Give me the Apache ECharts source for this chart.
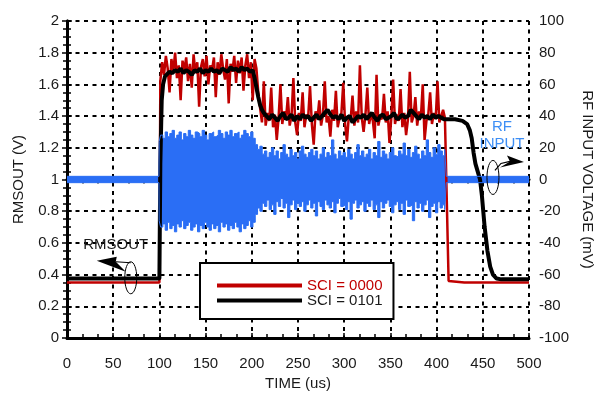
<!DOCTYPE html>
<html>
<head>
<meta charset="utf-8">
<script src="https://cdn.jsdelivr.net/npm/echarts@6/dist/echarts.min.js"></script>
<style>
  html, body { margin: 0; padding: 0; background: #fff; }
  #chart { width: 594px; height: 398px; }
</style>
</head>
<body>
<div id="chart"></div>
<script>
// time axis ticks (us)
const timeMin = 0, timeMax = 500, timeStep = 50;

// SCI = 0000 (red), RMSOUT in V
const redStart = [[0, 0.35], [100, 0.35]];
const redHigh = [ // from 101us, every 2us
  1.62, 1.74, 1.66, 1.78, 1.70, 1.55, 1.76, 1.68, 1.80, 1.64,
  1.72, 1.50, 1.75, 1.69, 1.77, 1.62, 1.73, 1.58, 1.79, 1.67,
  1.74, 1.46, 1.71, 1.76, 1.65, 1.78, 1.60, 1.72, 1.69, 1.77,
  1.52, 1.74, 1.66, 1.79, 1.70, 1.63, 1.76, 1.48, 1.73, 1.68,
  1.78, 1.61, 1.75, 1.67, 1.77, 1.56, 1.72, 1.79, 1.64, 1.74,
  1.50, 1.76, 1.70
];
const redMid = [ // from 207us, every 2us
  1.55, 1.45, 1.36, 1.62, 1.34, 1.42, 1.37, 1.58, 1.33, 1.41,
  1.25, 1.39, 1.60, 1.35, 1.43, 1.38, 1.52, 1.34, 1.40, 1.64,
  1.36, 1.28, 1.42, 1.37, 1.55, 1.33, 1.41, 1.39, 1.59, 1.35,
  1.22, 1.43, 1.38, 1.50, 1.34, 1.41, 1.62, 1.36, 1.40, 1.27,
  1.44, 1.37, 1.56, 1.33, 1.39, 1.42, 1.61, 1.35, 1.24, 1.40,
  1.38, 1.53, 1.34, 1.43, 1.36, 1.72, 1.39, 1.30, 1.41, 1.58,
  1.35, 1.42, 1.37, 1.26, 1.66, 1.34, 1.40, 1.38, 1.54, 1.36,
  1.43, 1.23, 1.39, 1.63, 1.35, 1.41, 1.37, 1.57, 1.33, 1.42,
  1.28, 1.38, 1.68, 1.36, 1.40, 1.52, 1.34, 1.43, 1.39, 1.60,
  1.25, 1.37, 1.41, 1.55, 1.35, 1.42, 1.38, 1.62, 1.36, 1.40,
  1.44, 1.39
];
const redEnd = [[411, 1.38], [413, 0.36], [430, 0.35], [500, 0.35]];

// SCI = 0101 (black), RMSOUT in V
const blackRise = [[0, 0.375], [100, 0.375], [101, 1.1], [102.5, 1.5], [104, 1.6], [106, 1.65]];
const blackHigh = [ // from 108us, every 3us
  1.66, 1.68, 1.67, 1.69, 1.68, 1.70, 1.67, 1.69, 1.68, 1.66,
  1.69, 1.68, 1.70, 1.67, 1.69, 1.68, 1.70, 1.68, 1.69, 1.67,
  1.70, 1.69, 1.68, 1.71, 1.69, 1.70, 1.68, 1.71, 1.69, 1.70,
  1.68, 1.69
];
const blackFall = [[203, 1.64], [205, 1.58], [207, 1.52], [209, 1.47], [211, 1.44], [213, 1.42]];
const blackMid = [ // from 216us, every 3us
  1.40, 1.38, 1.41, 1.39, 1.37, 1.40, 1.42, 1.38, 1.39, 1.41,
  1.37, 1.40, 1.38, 1.41, 1.39, 1.40, 1.37, 1.39, 1.41, 1.38,
  1.40, 1.42, 1.44, 1.41, 1.39, 1.40, 1.38, 1.41, 1.37, 1.39,
  1.40, 1.36, 1.38, 1.40, 1.39, 1.41, 1.38, 1.40, 1.42, 1.39,
  1.37, 1.40, 1.41, 1.38, 1.39, 1.40, 1.42, 1.38, 1.39, 1.41,
  1.39, 1.40, 1.44, 1.42, 1.40, 1.38, 1.41, 1.39, 1.40, 1.38,
  1.41, 1.39, 1.40, 1.39, 1.38
];
const blackTail = [
  [411, 1.38], [420, 1.38], [428, 1.37], [433, 1.35], [436, 1.31], [438, 1.26],
  [440, 1.17], [442, 1.10], [445, 1.04], [447, 1.00], [449, 0.90], [452, 0.70],
  [455, 0.55], [458, 0.45], [461, 0.40], [465, 0.375], [470, 0.37], [500, 0.37]
];

// RF INPUT (blue), envelope in mV, from 100us every 2.5us
const blueQuiet = 2;
const blueUpper = [
  24, 28, 26, 30, 27, 29, 31, 26, 28, 30, 25, 29, 27, 31, 28, 26, 30, 29, 27, 31,
  28, 25, 29, 30, 27, 28, 31, 29, 26, 30, 28, 31, 27, 29, 30, 26, 28, 31, 29, 27,
  30, 26, 22,
  19, 21, 16, 18, 14, 17, 20, 15, 18, 13, 17, 22, 16, 14, 19, 15, 17, 13, 18, 21,
  16, 14, 17, 19, 15, 18, 13, 16, 20, 14, 17, 15, 25, 16, 13, 18, 15, 17, 14, 19,
  16, 13, 17, 22, 15, 18, 14, 16, 19, 13, 17, 15, 24, 14, 18, 16, 13, 17, 20, 15,
  14, 18, 16, 23, 15, 19, 14, 17, 21, 16, 13, 18, 15, 25, 17, 14, 20, 16, 22, 18,
  15, 19
];
const blueLower = [
  -26, -30, -28, -32, -27, -31, -29, -33, -28, -30, -26, -31, -29, -27, -32, -30, -28, -33, -29, -31,
  -27, -30, -32, -28, -31, -29, -33, -27, -30, -28, -32, -29, -31, -27, -30, -33, -28, -31, -29, -26,
  -30, -27, -22,
  -18, -20, -15, -17, -13, -19, -16, -22, -14, -17, -12, -18, -15, -24, -16, -13, -19, -15, -17, -14,
  -20, -16, -13, -18, -15, -23, -14, -17, -19, -13, -16, -18, -14, -21, -15, -12, -17, -16, -19, -14,
  -25, -15, -13, -18, -16, -14, -20, -15, -17, -13, -19, -16, -24, -14, -18, -15, -13, -17, -21, -16,
  -14, -19, -15, -22, -13, -17, -16, -26, -14, -18, -15, -20, -16, -13, -24, -17, -15, -21, -14, -18,
  -16, -19
];

const legendNames = ['SCI = 0000', 'SCI = 0101'];

// pairs sampled values with their times
function sampled(t0, step, values) {
  return values.map((v, i) => [t0 + i * step, v]);
}

const redData = redStart.concat(sampled(101, 2, redHigh), sampled(207, 2, redMid), redEnd);
const blackData = blackRise.concat(sampled(108, 3, blackHigh), blackFall, sampled(216, 3, blackMid), blackTail);
const blueUpData = [[0, blueQuiet], [99.5, blueQuiet]].concat(sampled(100, 2.5, blueUpper), [[411, blueQuiet], [500, blueQuiet]]);
const blueLowData = [[0, -blueQuiet], [99.5, -blueQuiet]].concat(sampled(100, 2.5, blueLower), [[411, -blueQuiet], [500, -blueQuiet]]);

const font = '"Liberation Sans", Arial, Helvetica, sans-serif';
const textColor = '#1a1a1a';
const blue = '#2a6ef5';
const red = '#c00000';

const frame = { show: true, lineStyle: { color: '#000', width: 3 } };
const tick = { show: true, inside: true, length: 5, lineStyle: { color: '#000', width: 1.5 } };
const minor = (n) => ({ show: true, splitNumber: n, length: 4, lineStyle: { color: '#000', width: 1.5 } });
const grid = { show: true, lineStyle: { color: '#000', width: 2, type: [4, 4.5] } };

let myChart = echarts.init(document.getElementById('chart'));
myChart.setOption({
  animation: false,
  textStyle: { fontFamily: font },
  grid: { left: 67, right: 65, top: 21, bottom: 60, containLabel: false, outerBoundsMode: 'none' },
  legend: {
    data: [
      { name: legendNames[0], textStyle: { color: red } },
      { name: legendNames[1], textStyle: { color: textColor } }
    ],
    orient: 'vertical',
    left: 200,
    top: 263,
    padding: [15, 11, 11, 17],
    itemWidth: 85,
    itemHeight: 4,
    itemGap: 0,
    icon: 'rect',
    backgroundColor: '#fff',
    borderColor: '#000',
    borderWidth: 2,
    borderRadius: 0,
    textStyle: { fontSize: 15, fontFamily: font }
  },
  xAxis: [
    {
      type: 'value',
      min: timeMin, max: timeMax, interval: timeStep,
      name: 'TIME (us)',
      nameLocation: 'middle',
      nameGap: 35,
      nameTextStyle: { fontSize: 15, color: textColor },
      axisLine: frame,
      axisTick: tick,
      minorTick: minor(3),
      axisLabel: { fontSize: 15, color: textColor, margin: 18 },
      splitLine: grid
    },
    {
      type: 'value',
      position: 'top',
      min: timeMin, max: timeMax, interval: timeStep,
      axisLine: frame,
      axisTick: tick,
      minorTick: minor(3),
      axisLabel: { show: false },
      splitLine: { show: false }
    }
  ],
  yAxis: [
    {
      type: 'value',
      min: 0, max: 2, interval: 0.2,
      name: 'RMSOUT (V)',
      nameLocation: 'middle',
      nameGap: 41,
      nameTextStyle: { fontSize: 15, color: textColor },
      axisLine: frame,
      axisTick: tick,
      minorTick: minor(4),
      axisLabel: { fontSize: 15, color: textColor, margin: 8 },
      splitLine: grid
    },
    {
      type: 'value',
      position: 'right',
      min: -100, max: 100, interval: 20,
      name: 'RF INPUT VOLTAGE (mV)',
      nameLocation: 'middle',
      nameRotate: -90,
      nameGap: 43,
      nameTextStyle: { fontSize: 15, color: textColor },
      axisLine: frame,
      axisTick: tick,
      minorTick: minor(4),
      axisLabel: { fontSize: 15, color: textColor, margin: 10 },
      splitLine: { show: false }
    }
  ],
  series: [
    {
      name: legendNames[0],
      type: 'line',
      data: redData,
      showSymbol: false,
      color: red,
      lineStyle: { color: red, width: 2.5 }
    },
    {
      name: legendNames[1],
      type: 'line',
      data: blackData,
      showSymbol: false,
      color: '#000',
      lineStyle: { color: '#000', width: 4 }
    },
    {
      // upper half of the RF band, filled down just past zero
      name: 'RF up',
      type: 'line',
      yAxisIndex: 1,
      data: blueUpData,
      step: 'middle',
      showSymbol: false,
      lineStyle: { color: blue, width: 1 },
      areaStyle: { color: blue, opacity: 1, origin: -1 }
    },
    {
      // lower half, filled up just past zero so no seam shows
      name: 'RF low',
      type: 'line',
      yAxisIndex: 1,
      data: blueLowData,
      step: 'middle',
      showSymbol: false,
      lineStyle: { color: blue, width: 1 },
      areaStyle: { color: blue, opacity: 1, origin: 1 }
    }
  ]
});

// annotations: ellipse + arrow, placed from data coordinates
const a = myChart.convertToPixel({ xAxisIndex: 0, yAxisIndex: 0 }, [69, 0.38]);
const b = myChart.convertToPixel({ xAxisIndex: 0, yAxisIndex: 0 }, [461, 1.013]);
const pts = (p, list) => list.map(d => [p[0] + d[0], p[1] + d[1]]);
const ink = { stroke: '#000', lineWidth: 1, fill: null };

myChart.setOption({
  graphic: [
    { type: 'ellipse', shape: { cx: a[0], cy: a[1], rx: 6, ry: 16 }, style: ink, z: 100 },
    { type: 'polyline', shape: { points: pts(a, [[-15, -16], [0, -15]]) }, style: { stroke: '#000', lineWidth: 1.2 }, z: 100 },
    { type: 'polygon', shape: { points: pts(a, [[-34, -17], [-14, -21], [-15, -16], [-5, -6]]) }, style: { fill: '#000' }, z: 100 },
    {
      type: 'text', x: a[0] - 15, y: a[1] - 33, z: 100,
      style: { text: 'RMSOUT', fontSize: 15, fontFamily: font, fill: textColor, align: 'center', verticalAlign: 'middle' }
    },
    { type: 'ellipse', shape: { cx: b[0], cy: b[1], rx: 6, ry: 17 }, style: ink, z: 100 },
    { type: 'polyline', shape: { points: pts(b, [[2, -7], [8, -14], [17, -16]]) }, style: { stroke: '#000', lineWidth: 1.2 }, z: 100 },
    { type: 'polygon', shape: { points: pts(b, [[31, -15.5], [14, -22], [17, -16], [7, -10]]) }, style: { fill: '#000' }, z: 100 },
    {
      type: 'text', x: b[0] + 9, y: b[1] - 51, z: 100,
      style: { text: 'RF', fontSize: 15, fontFamily: font, fill: '#3d8ef5', align: 'center', verticalAlign: 'middle' }
    },
    {
      type: 'text', x: b[0] + 9, y: b[1] - 34, z: 100,
      style: { text: 'INPUT', fontSize: 15, fontFamily: font, fill: '#3d8ef5', align: 'center', verticalAlign: 'middle' }
    }
  ]
});
</script>
</body>
</html>
